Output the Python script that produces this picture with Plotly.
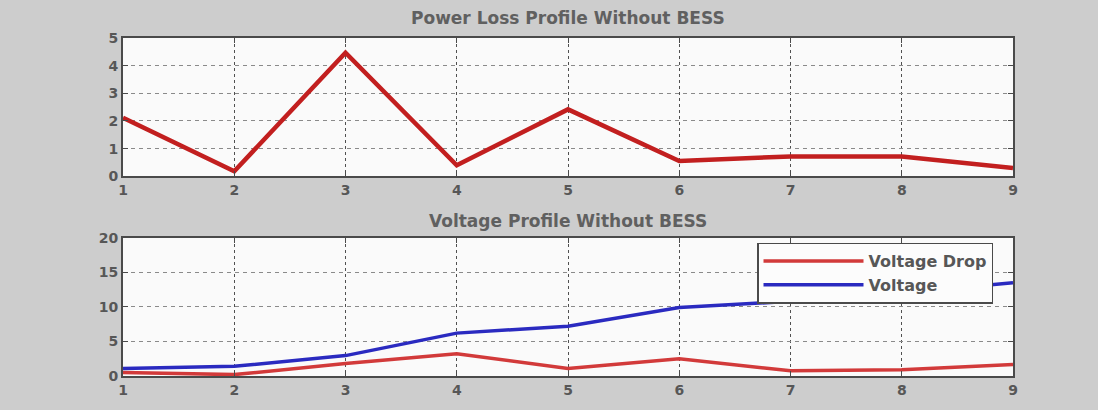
import plotly.graph_objects as go

# Bus numbers and measured profiles
buses = [1, 2, 3, 4, 5, 6, 7, 8, 9]
power_loss = [2.12, 0.18, 4.47, 0.4, 2.42, 0.55, 0.72, 0.72, 0.3]
voltage_drop = [0.5, 0.2, 1.8, 3.2, 1.1, 2.5, 0.75, 0.9, 1.65]
voltage = [1.1, 1.4, 2.95, 6.2, 7.2, 9.9, 10.8, 12.0, 13.5]

top_title = "Power Loss Profile Without BESS"
bottom_title = "Voltage Profile Without BESS"

W, H = 1098, 410
ML, MR, MT, MB = 123, 85, 38, 25
plot_h = H - MT - MB
plot_w = W - ML - MR


def py(pix):
    return (H - MB - pix) / plot_h


def px(pix):
    return (pix - ML) / plot_w


BG = "#cdcdcd"
AX = "#4a4a4a"
TXT = "#575757"
FONT = "DejaVu Sans, Verdana, sans-serif"

fig = go.Figure()
fig.add_trace(go.Scatter(x=buses, y=power_loss, mode="lines",
                         line=dict(color="#c21f1f", width=4.5),
                         showlegend=False, xaxis="x", yaxis="y"))
fig.add_trace(go.Scatter(x=buses, y=voltage_drop, mode="lines", name="Voltage Drop",
                         line=dict(color="#d23a3a", width=3.5),
                         xaxis="x2", yaxis="y2"))
fig.add_trace(go.Scatter(x=buses, y=voltage, mode="lines", name="Voltage",
                         line=dict(color="#2a2ac0", width=3.5),
                         xaxis="x2", yaxis="y2"))

axis_common = dict(
    showline=True, linecolor=AX, linewidth=2, mirror="ticks",
    ticks="inside", ticklen=5, tickcolor=AX,
    showgrid=True, gridwidth=1,
    zeroline=False,
    tickfont=dict(family=FONT, size=14, color=TXT, weight="bold"),
)
x_grid = dict(gridcolor="#505050", griddash="dot")
y_grid = dict(gridcolor="#8a8a8a", griddash="4px,4px")

fig.update_layout(
    width=W, height=H, autosize=False,
    margin=dict(l=ML, r=MR, t=MT, b=MB),
    paper_bgcolor=BG, plot_bgcolor="#fafafa",
    font=dict(family=FONT, color=TXT),
    xaxis=dict(domain=[0, 1], anchor="y", range=[1, 9], dtick=1, **axis_common, **x_grid),
    yaxis=dict(domain=[py(180), 1], anchor="x", range=[0, 5], dtick=1, **axis_common, **y_grid),
    xaxis2=dict(domain=[0, 1], anchor="y2", range=[1, 9], dtick=1, **axis_common, **x_grid),
    yaxis2=dict(domain=[0, py(243)], anchor="x2", range=[0, 20], dtick=5, **axis_common, **y_grid),
    legend=dict(
        x=px(993), y=py(248), xanchor="right", yanchor="top",
        bgcolor="#fcfcfc", bordercolor=AX, borderwidth=1.5,
        font=dict(family=FONT, size=16, color=TXT, weight="bold"),
        tracegroupgap=0, itemwidth=100,
    ),
    annotations=[
        dict(text=top_title, x=0.5, y=py(17), xref="paper", yref="paper",
             yanchor="middle", showarrow=False,
             font=dict(family=FONT, size=17, color="#606060", weight="bold")),
        dict(text=bottom_title, x=0.5, y=py(226), xref="paper", yref="paper",
             yanchor="middle", showarrow=False,
             font=dict(family=FONT, size=17, color="#606060", weight="bold")),
    ],
)

fig.write_html("out.html")
